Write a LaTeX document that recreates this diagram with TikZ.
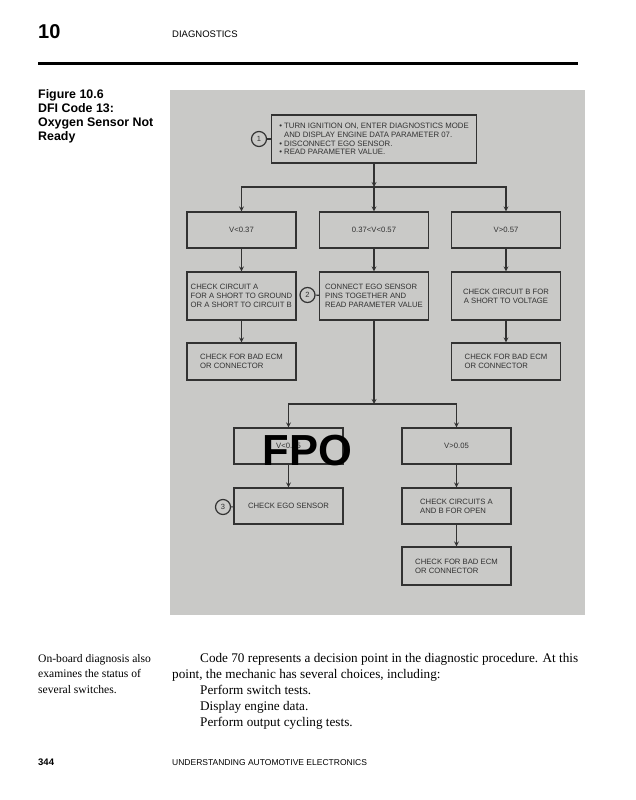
\documentclass[tikz,border=0pt]{standalone}
\usepackage{fontspec}
\setmainfont{Liberation Serif}
\newfontfamily\helv{Liberation Sans}
\usetikzlibrary{positioning}

\begin{document}
\begin{tikzpicture}[x=1pt, y=-1pt, >=stealth, font=\helv,
    box/.style={draw=inkgray, line width=1.2pt, minimum width=109pt, minimum height=36pt,
      inner sep=1.5pt, align=center, text=inkgray, font=\helv\fontsize{7.7}{9}\selectfont},
    num/.style={circle, draw=inkgray, line width=1.2pt, minimum size=15pt, inner sep=0pt,
      text=inkgray, font=\helv\fontsize{7.5}{8}\selectfont},
    link/.style={draw=inkgray, line width=1.2pt},
    body/.style={anchor=base west, inner sep=0pt, font=\fontsize{13.2}{16}\selectfont},
    side/.style={anchor=base west, inner sep=0pt, font=\fontsize{11.6}{15.5}\selectfont}]
  \definecolor{panelgray}{RGB}{201,201,199}
  \definecolor{inkgray}{RGB}{50,50,50}

  \useasboundingbox (0,0) rectangle (635,800);

  % 页眉
  \node[anchor=base west, inner sep=0pt, font=\helv\bfseries\fontsize{20}{20}\selectfont] (chap) at (38,38) {10};
  \node[anchor=base west, inner sep=0pt, font=\helv\fontsize{9.5}{10}\selectfont] (head) at (172,37.5) {DIAGNOSTICS};
  \draw[line width=3pt] (38,64) -- (578,64);

  % 图题
  \node[anchor=north west, inner sep=0pt, align=left, font=\helv\bfseries\fontsize{12.4}{13.8}\selectfont] (caption) at (38,89.5)
    {Figure 10.6\\DFI Code 13:\\Oxygen Sensor Not\\Ready};

  % 灰色底图
  \fill[panelgray] (170,90) rectangle (585,615);

  % 第一步
  \node[box, minimum width=205pt, minimum height=48pt, align=left, font=\helv\fontsize{7.8}{8.8}\selectfont] (start) at (374,139)
    {\textbullet\ TURN IGNITION ON, ENTER DIAGNOSTICS MODE\\
     \hphantom{\textbullet\ }AND DISPLAY ENGINE DATA PARAMETER 07.\\
     \textbullet\ DISCONNECT EGO SENSOR.\\
     \textbullet\ READ PARAMETER VALUE.};
  \node[num] (n1) at (259,139) {1};
  \coordinate (split1) at (374,187);

  % 三个电压范围
  \node[box] (low) at (241.5,230) {V<0.37};
  \node[box] (mid) at (374,230) {0.37<V<0.57};
  \node[box] (high) at (506,230) {V>0.57};

  \node[box, minimum height=48pt, align=left] (chka) at (241.5,296)
    {CHECK CIRCUIT A\\FOR A SHORT TO GROUND\\OR A SHORT TO CIRCUIT B};
  \node[box, minimum height=48pt, align=left] (conn) at (374,296)
    {CONNECT EGO SENSOR\\PINS TOGETHER AND\\READ PARAMETER VALUE};
  \node[box, minimum height=48pt] (chkb) at (506,296)
    {CHECK CIRCUIT B FOR\\A SHORT TO VOLTAGE};
  \node[num] (n2) at (307.5,295) {2};

  \node[box, minimum height=37pt, align=left] (ecma) at (241.5,361.5) {CHECK FOR BAD ECM\\OR CONNECTOR};
  \node[box, minimum height=37pt, align=left] (ecmb) at (506,361.5) {CHECK FOR BAD ECM\\OR CONNECTOR};
  \coordinate (split2) at (374,404);

  % 第二次读数
  \node[box] (lowb) at (288.5,446) {V<0.05};
  \node[box] (highb) at (456.5,446) {V>0.05};
  \node[box] (ego) at (288.5,506) {CHECK EGO SENSOR};
  \node[box, align=left] (open) at (456.5,506) {CHECK CIRCUITS A\\AND B FOR OPEN};
  \node[num] (n3) at (223,507) {3};
  \node[box, minimum height=38pt, align=left] (ecmc) at (456.5,566) {CHECK FOR BAD ECM\\OR CONNECTOR};

  % 连线
  \draw[link, ->] (start) -- (split1);
  \draw[link, ->] (split1) -| (low);
  \draw[link, ->] (split1) -- (mid);
  \draw[link, ->] (split1) -| (high);
  \draw[link] (n1) -- (start);
  \draw[link, ->] (low) -- (chka);
  \draw[link, ->] (mid) -- (conn);
  \draw[link, ->] (high) -- (chkb);
  \draw[link] (n2) -- (conn);
  \draw[link, ->] (chka) -- (ecma);
  \draw[link, ->] (chkb) -- (ecmb);
  \draw[link, ->] (conn) -- (split2);
  \draw[link, ->] (split2) -| (lowb);
  \draw[link, ->] (split2) -| (highb);
  \draw[link, ->] (lowb) -- (ego);
  \draw[link, ->] (highb) -- (open);
  \draw[link, ->] (open) -- (ecmc);
  \draw[link] (n3) -- (ego);

  % 占位字样
  \node[inner sep=0pt, font=\helv\bfseries\fontsize{43.5}{44}\selectfont] (fpo) at (307.5,451) {FPO};

  % 正文
  \node[side] (note1) at (38,662) {On-board diagnosis also};
  \node[side] (note2) at (38,677.5) {examines the status of};
  \node[side] (note3) at (38,693) {several switches.};
  \node[body] (para1) at (200,662) {Code 70 represents a decision point in the diagnostic procedure. At this};
  \node[body] (para2) at (172,678) {point, the mechanic has several choices, including:};
  \node[body] (item1) at (200,694) {Perform switch tests.};
  \node[body] (item2) at (200,710) {Display engine data.};
  \node[body] (item3) at (200,726) {Perform output cycling tests.};

  % 页脚
  \node[anchor=base west, inner sep=0pt, font=\helv\bfseries\fontsize{9.5}{10}\selectfont] (page) at (38,765) {344};
  \node[anchor=base west, inner sep=0pt, font=\helv\fontsize{8.5}{9}\selectfont] (foot) at (172,765) {UNDERSTANDING AUTOMOTIVE ELECTRONICS};
\end{tikzpicture}
\end{document}
